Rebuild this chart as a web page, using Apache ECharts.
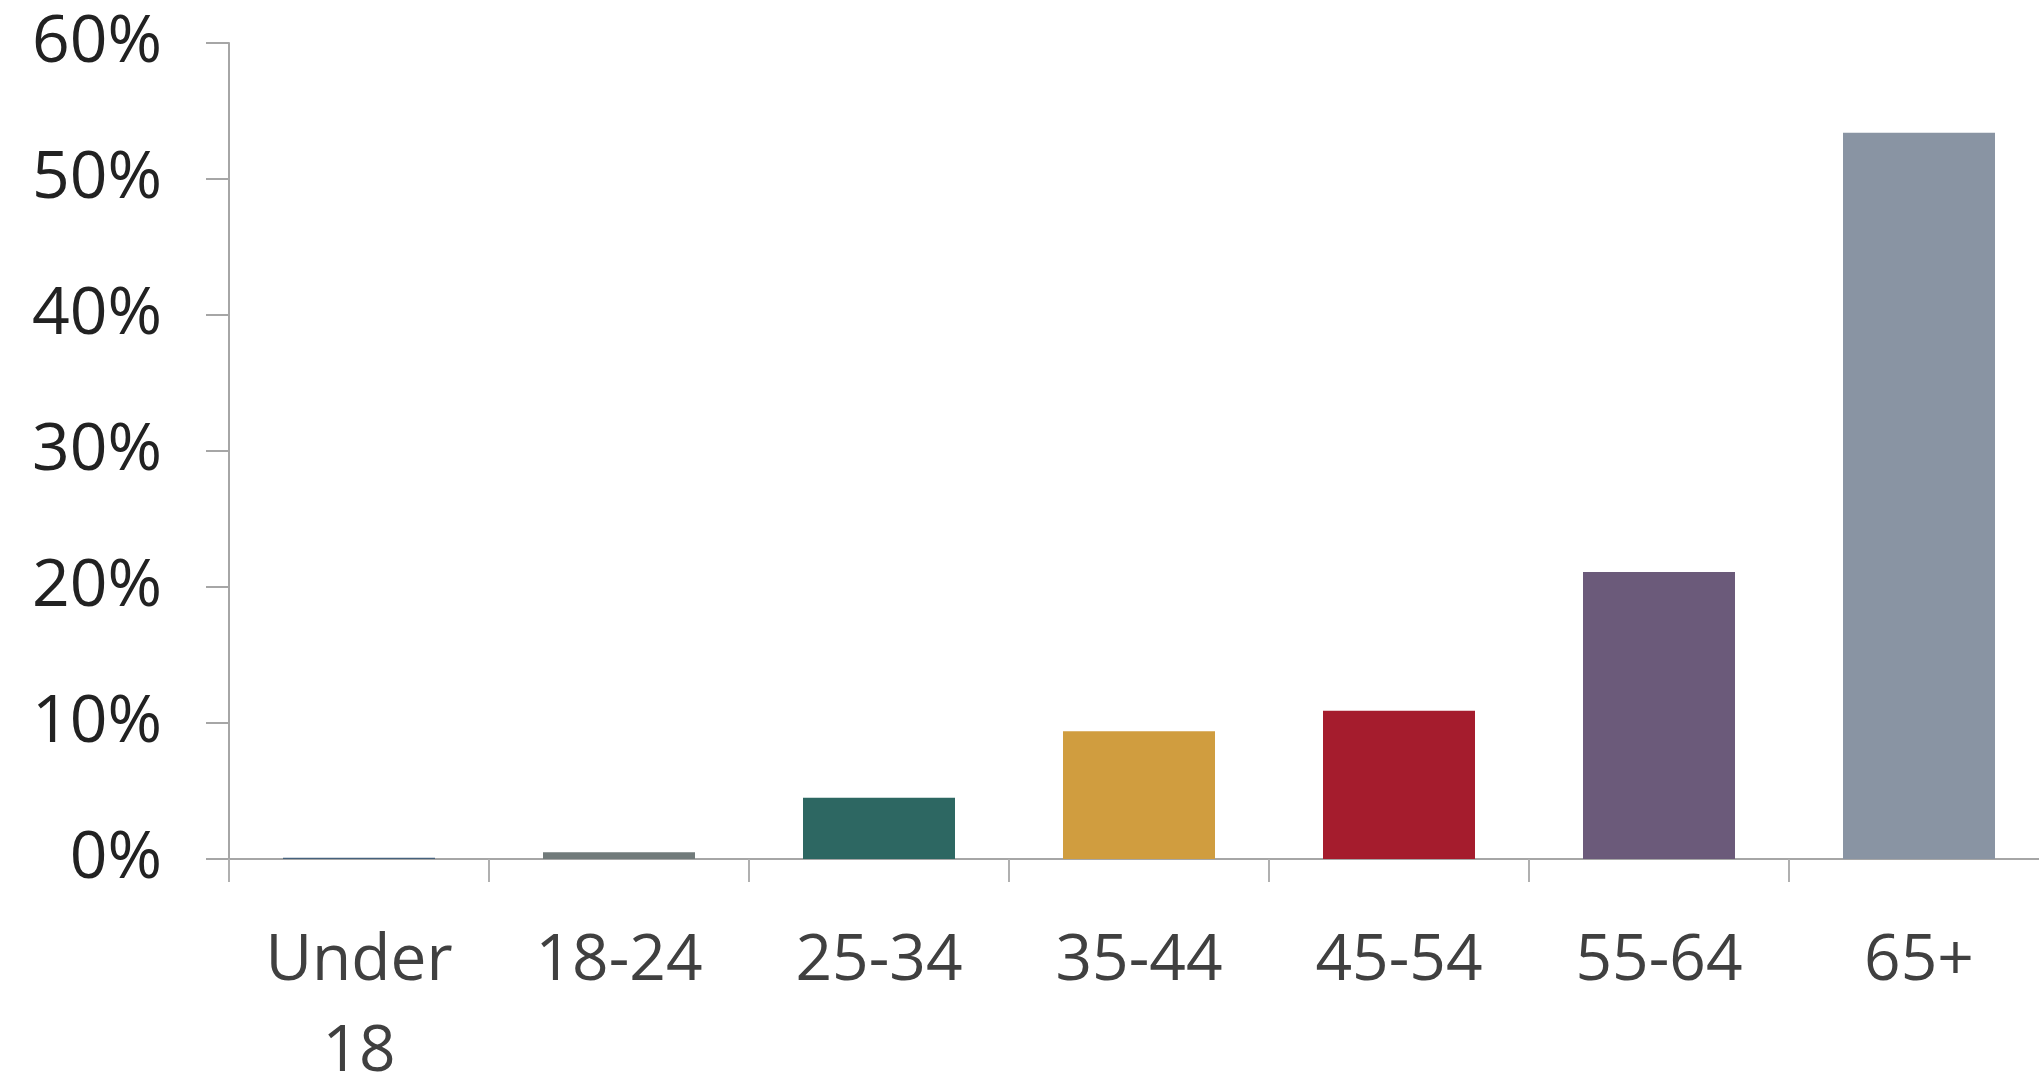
<!DOCTYPE html>
<html>
<head>
<meta charset="utf-8">
<script src="https://cdn.jsdelivr.net/npm/echarts@6/dist/echarts.min.js"></script>
<style>
html,body{margin:0;padding:0;background:#fff;}
#chart{width:2039px;height:1077px;}
</style>
</head>
<body>
<div id="chart"></div>
<script>
const categories = ['Under\n18', '18-24', '25-34', '35-44', '45-54', '55-64', '65+'];
const values = [0.1, 0.5, 4.5, 9.4, 10.9, 21.1, 53.4];
const barColors = ['#45617d', '#717a7a', '#2d6762', '#d09d3f', '#a51c2d', '#6b5a7a', '#8994a3'];
const yTicks = { min: 0, max: 60, interval: 10 };

const chart = echarts.init(document.getElementById('chart'));
chart.setOption({
  animation: false,
  backgroundColor: '#fff',
  grid: { left: 229, top: 43, width: 1820, bottom: 218, containLabel: false, outerBoundsMode: 'none' },
  xAxis: {
    type: 'category',
    data: categories,
    axisLine: { lineStyle: { color: '#a6a6a6', width: 2 } },
    axisTick: { show: true, length: 23, interval: 0, lineStyle: { color: '#b0b0b0', width: 2 } },
    axisLabel: { interval: 0, margin: 57, fontFamily: 'Open Sans', fontSize: 64, lineHeight: 91, color: '#404040' }
  },
  yAxis: {
    type: 'value',
    min: yTicks.min, max: yTicks.max, interval: yTicks.interval,
    splitLine: { show: false },
    axisLine: { show: true, lineStyle: { color: '#a6a6a6', width: 2 } },
    axisTick: { show: true, length: 23, lineStyle: { color: '#a6a6a6', width: 2 } },
    axisLabel: { margin: 67, fontFamily: 'Open Sans', fontSize: 66, color: '#222', formatter: '{value}%' }
  },
  series: [{
    type: 'bar',
    data: values.map((v, i) => ({ value: v, itemStyle: { color: barColors[i] } })),
    barWidth: 152
  }]
});
</script>
</body>
</html>
